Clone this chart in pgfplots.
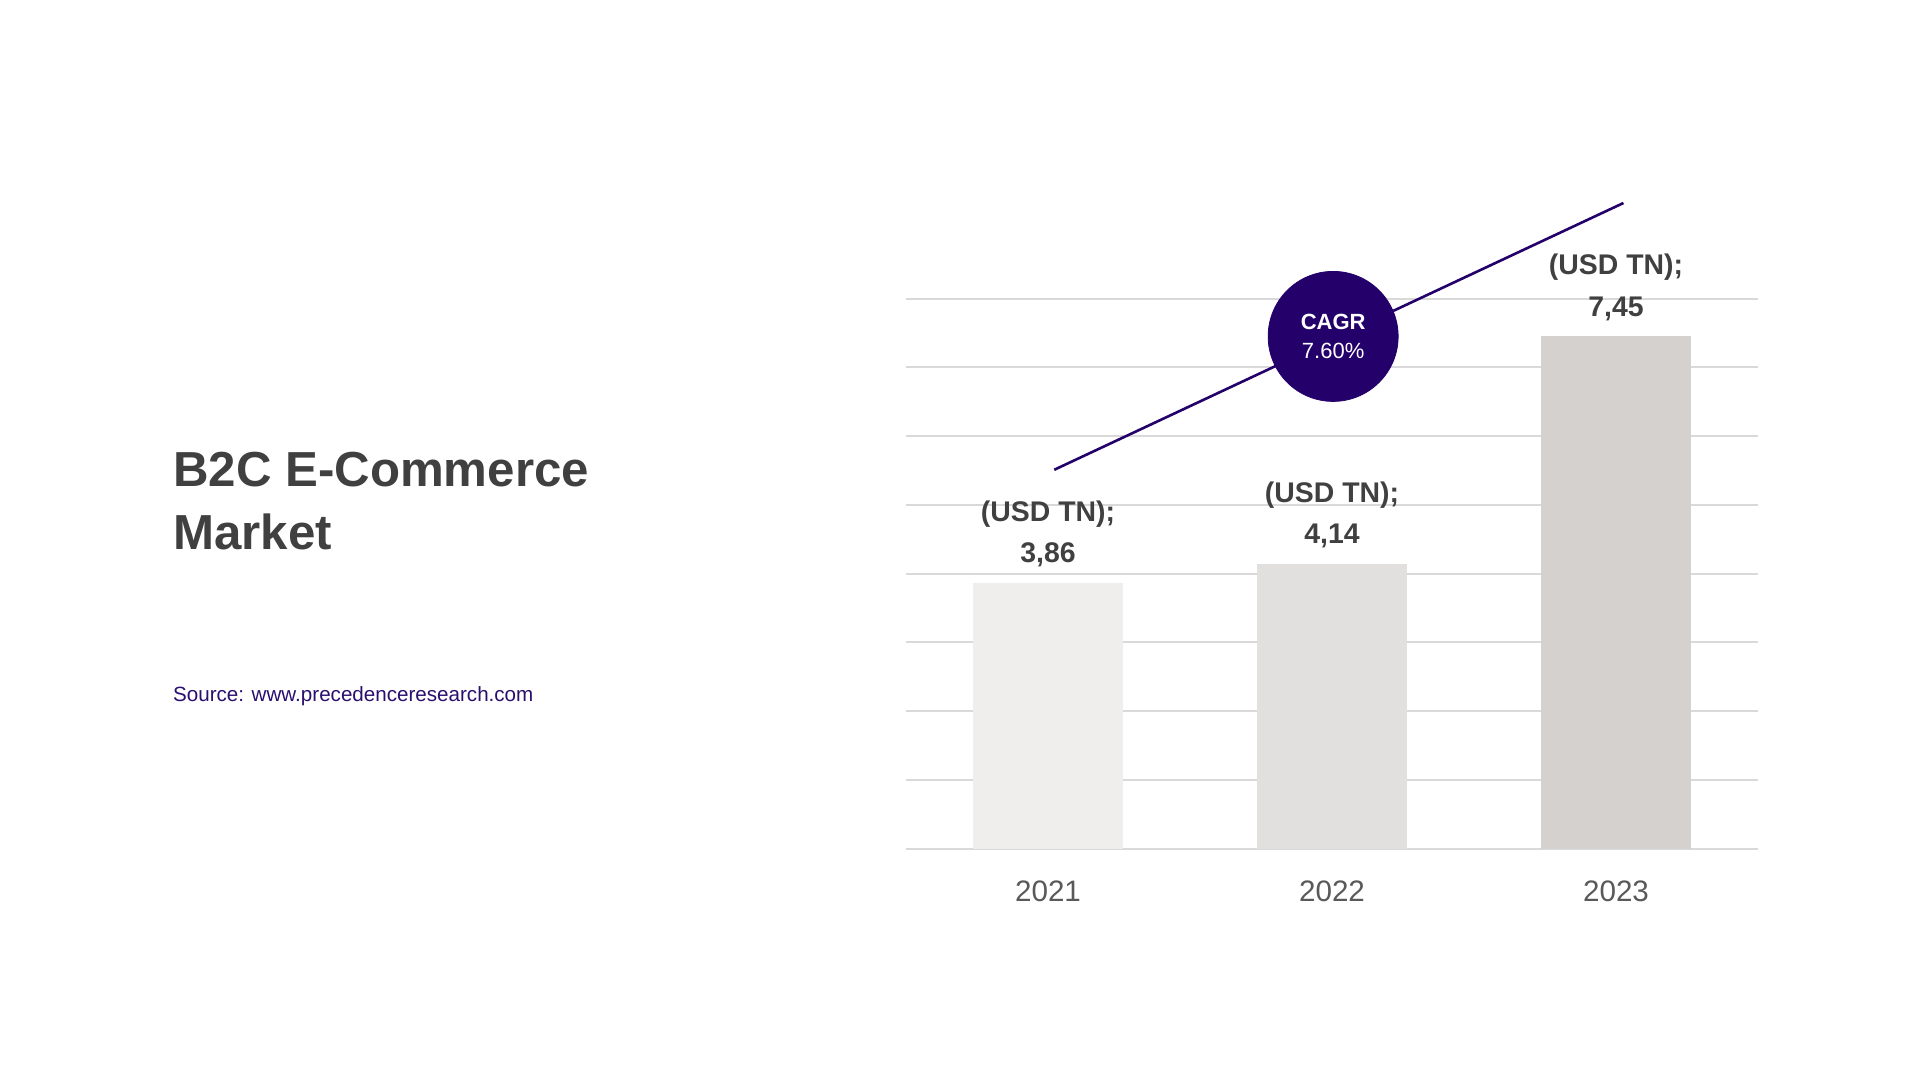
\documentclass[border=0pt]{standalone}
\usepackage{pgfplots}
\pgfplotsset{compat=1.18}
\usepackage{fontspec}
\setmainfont{Liberation Sans}
\definecolor{barA}{HTML}{EFEEED}
\definecolor{barB}{HTML}{E1E0DF}
\definecolor{barC}{HTML}{D4D1CF}
\definecolor{cagr}{HTML}{24006B}
\definecolor{txt}{HTML}{404040}
\definecolor{tickc}{HTML}{595959}
\definecolor{gridc}{HTML}{D9D9D9}
\definecolor{src}{HTML}{2B0F6E}
\begin{document}
\begin{tikzpicture}[x=0.5pt,y=0.5pt]
\fill[white] (0,0) rectangle (1920,1080);
\node[anchor=base west, inner sep=0, text=txt, font=\fontsize{24.6}{31.5}\selectfont\bfseries] at (173,593.3) {B2C E-Commerce};
\node[anchor=base west, inner sep=0, text=txt, font=\fontsize{24.6}{31.5}\selectfont\bfseries] at (173,530) {Market};
\node[anchor=base west, inner sep=0, text=src, font=\fontsize{10.3}{12}\selectfont] at (172.7,378.3) {Source: www.precedenceresearch.com};
\begin{axis}[
  at={(453pt,115.7pt)}, anchor=south west,
  width=426pt, height=275pt, scale only axis,
  xmin=-0.5, xmax=2.5, ymin=0, ymax=8,
  clip=false,
  axis line style={draw=none},
  major tick length=0pt,
  ytick={0,1,2,3,4,5,6,7,8}, yticklabels={},
  ymajorgrids, major grid style={gridc, line width=1pt},
  xtick={0,1,2}, xticklabels={2021,2022,2023},
  xticklabel style={anchor=center, yshift=-21.5pt, text=tickc, font=\fontsize{14.8}{18}\selectfont},
  every node near coord/.append style={anchor=center, yshift=24.6pt, align=center, text=txt, font=\fontsize{14.2}{20.8}\selectfont\bfseries},
]
\addplot[ybar, bar width=74.7pt, bar shift=0pt, fill=barA, draw=none,
  nodes near coords={(USD TN);\\\pgfmathprintnumber[fixed,precision=2,fixed zerofill,use comma,assume math mode=true]{\pgfplotspointmeta}}]
  coordinates {(0,3.86)};
\addplot[ybar, bar width=74.7pt, bar shift=0pt, fill=barB, draw=none,
  nodes near coords={(USD TN);\\\pgfmathprintnumber[fixed,precision=2,fixed zerofill,use comma,assume math mode=true]{\pgfplotspointmeta}}]
  coordinates {(1,4.14)};
\addplot[ybar, bar width=74.7pt, bar shift=0pt, fill=barC, draw=none,
  nodes near coords={(USD TN);\\\pgfmathprintnumber[fixed,precision=2,fixed zerofill,use comma,assume math mode=true]{\pgfplotspointmeta}}]
  coordinates {(2,7.45)};
\addplot[cagr, line width=1.3pt, mark=none] coordinates {(0.022,5.51) (2.026,9.39)};
\addplot[only marks, mark=*, mark size=32.5pt, mark options={fill=cagr, draw=cagr},
  nodes near coords={{\bfseries CAGR}\\7.60\%},
  every node near coord/.style={anchor=center, yshift=0pt, align=center, text=white, font=\fontsize{11}{14.7}\selectfont}]
  coordinates {(1.004,7.45)};
\end{axis}
\end{tikzpicture}
\end{document}
